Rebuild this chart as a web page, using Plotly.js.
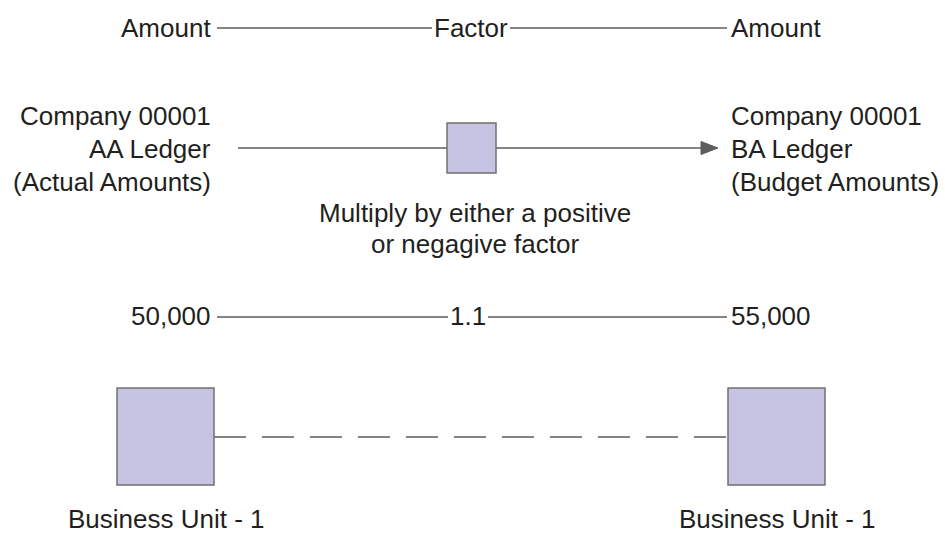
<!DOCTYPE html>
<html>
<head>
<meta charset="utf-8">
<script src="https://cdn.plot.ly/plotly-3.0.1.min.js"></script>
<style>html,body{margin:0;padding:0;background:#fff;}#chart{width:945px;height:536px;}</style>
</head>
<body>
<div id="chart"></div>
<script>
// ---- content ----
const headerLabels = ["Amount", "Factor", "Amount"];
const sourceLines = ["Company 00001", "AA Ledger", "(Actual Amounts)"];
const targetLines = ["Company 00001", "BA Ledger", "(Budget Amounts)"];
const noteLines = ["Multiply by either a positive", "or negagive factor"];
const exampleValues = [50000, 1.1, 55000];
const unitLabels = ["Business Unit - 1", "Business Unit - 1"];

// ---- styles ----
const FONT = {family: "Liberation Sans, Arial, sans-serif", size: 26, color: "#231f20"};
const LINE = "#5c5c5c";
const BOX_FILL = "#c6c4e2";
const BOX_EDGE = "#707070";

function fmt(v) {
  return v >= 1000 ? v.toLocaleString("en-US") : String(v);
}

const annotations = [];
function txt(text, x, y, xanchor) {
  annotations.push({text: text, x: x, y: y, xref: "x", yref: "y", showarrow: false,
    xanchor: xanchor, yanchor: "middle", font: FONT});
}

// Row 1: header
txt(headerLabels[0], 213, 28, "right");
txt(headerLabels[1], 471, 28, "center");
txt(headerLabels[2], 729, 28, "left");

// Row 2: ledgers
[116, 149, 182].forEach((y, i) => {
  txt(sourceLines[i], 213, y, "right");
  txt(targetLines[i], 729, y, "left");
});

// Note
txt(noteLines[0], 475, 213, "center");
txt(noteLines[1], 475, 244, "center");

// Row 3: example values
txt(fmt(exampleValues[0]), 213, 316, "right");
txt(fmt(exampleValues[1]), 468, 316, "center");
txt(fmt(exampleValues[2]), 729, 316, "left");

// Row 4: business units
txt(unitLabels[0], 166, 519, "center");
txt(unitLabels[1], 777, 519, "center");

const shapes = [];
function seg(x0, y0, x1, y1, dash) {
  shapes.push({type: "line", xref: "x", yref: "y", x0: x0, y0: y0, x1: x1, y1: y1,
    line: {color: LINE, width: 1.5, dash: dash || "solid"}});
}
function box(x0, y0, x1, y1) {
  shapes.push({type: "rect", xref: "x", yref: "y", x0: x0, y0: y0, x1: x1, y1: y1,
    fillcolor: BOX_FILL, line: {color: BOX_EDGE, width: 1.5}, layer: "above"});
}

// Row 1 connectors
seg(217, 28, 432, 28);
seg(510, 28, 727, 28);

// Row 2 flow
seg(238, 148, 447, 148);
seg(496, 148, 705, 148);
shapes.push({type: "path", xref: "x", yref: "y",
  path: "M 701 141.5 L 718 148 L 701 154.5 Z", fillcolor: LINE, line: {color: LINE, width: 1}});
box(447, 123, 496, 173);

// Row 3 connectors
seg(217, 317, 448, 317);
seg(488, 317, 727, 317);

// Row 4 boxes and dashed link
seg(214, 437, 728, 437, "32px,16px");
box(117, 388, 214, 485);
box(728, 388, 825, 485);

const layout = {
  width: 945, height: 536,
  margin: {l: 0, r: 0, t: 0, b: 0},
  paper_bgcolor: "#ffffff", plot_bgcolor: "#ffffff",
  showlegend: false,
  xaxis: {range: [0, 945], visible: false, fixedrange: true},
  yaxis: {range: [536, 0], visible: false, fixedrange: true},
  annotations: annotations,
  shapes: shapes
};

Plotly.newPlot("chart", [{x: [], y: [], type: "scatter", mode: "markers", hoverinfo: "skip"}], layout, {displayModeBar: false, staticPlot: true});
</script>
</body>
</html>
